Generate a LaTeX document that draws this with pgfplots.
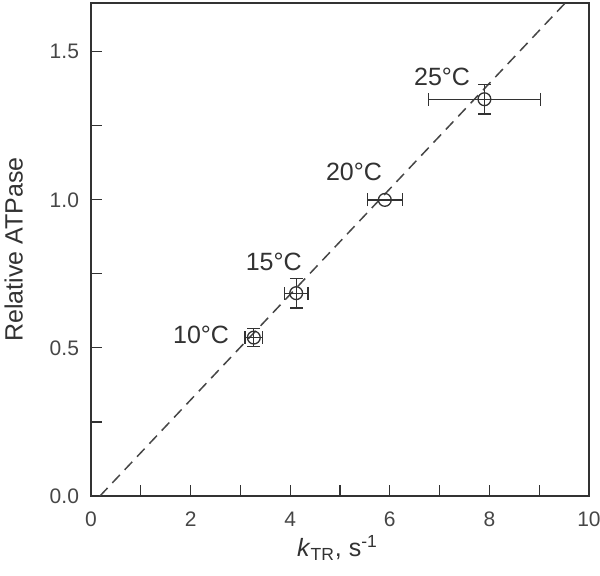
\documentclass[border=0pt]{standalone}
\usepackage{fontspec}
\setmainfont{Liberation Sans}
\usepackage{pgfplots}
\pgfplotsset{compat=1.18}
\definecolor{ink}{RGB}{50,50,50}

\begin{document}
\begin{tikzpicture}
\begin{axis}[
  scale only axis, width=249pt, height=246.5pt,
  xmin=0, xmax=10, ymin=0, ymax=1.665,
  axis line style={ink, line width=1pt},
  tick style={ink, line width=0.55pt},
  tick align=inside, tick pos=left,
  major tick length=5.5pt, minor tick length=5.5pt,
  xtick={0,2,...,10}, minor xtick={1,3,5,7,9},
  ytick={0,0.5,1,1.5}, minor ytick={0.25,0.75,1.25},
  /pgf/number format/assume math mode=true,
  ticklabel style={font=\fontsize{10.5}{12}\selectfont, text=ink!90},
  xticklabel style={yshift=-4.5pt},
  yticklabel style={xshift=-2.5pt, /pgf/number format/fixed,
    /pgf/number format/fixed zerofill, /pgf/number format/precision=1},
  label style={font=\fontsize{12.5}{14}\selectfont, text=ink},
  xlabel={\textit{k}\textsubscript{TR}, s\textsuperscript{-1}},
  ylabel={Relative ATPase},
  xlabel style={at={(axis description cs:0.495,-0.105)}, anchor=center},
  ylabel style={at={(axis description cs:-0.155,0.5)}, anchor=center},
  clip=true,
]
% reference line
\addplot[ink!90, line width=0.75pt, dash pattern=on 5.5pt off 3.5pt]
  coordinates {(0.18,0) (9.70,1.6966)};
% data with error bars
\addplot[ink, only marks, mark=o, mark size=3.2pt, line width=0.65pt,
  error bars/.cd, x dir=both, x explicit, y dir=both, y explicit,
  error mark=|,
  error bar style={line width=0.65pt, ink},
  error mark options={mark size=3.2pt, line width=0.65pt, ink}]
  coordinates {
    (3.27,0.535) +- (0.18,0.03)
    (4.12,0.685) +- (0.24,0.05)
    (5.90,1.000) +- (0.35,0.0)
    (7.90,1.340) +- (1.12,0.05)
  };
\node[ink, font=\fontsize{12.5}{14}\selectfont] at (axis cs:2.21,0.544) {10°C};
\node[ink, font=\fontsize{12.5}{14}\selectfont] at (axis cs:3.67,0.790) {15°C};
\node[ink, font=\fontsize{12.5}{14}\selectfont] at (axis cs:5.28,1.095) {20°C};
\node[ink, font=\fontsize{12.5}{14}\selectfont] at (axis cs:7.05,1.417) {25°C};
\coordinate (sw) at (rel axis cs:0,0);
\coordinate (ne) at (rel axis cs:1,1);
\end{axis}
\pgfresetboundingbox
\path[use as bounding box] ([shift={(-45.5pt,-40pt)}]sw) rectangle ([shift={(5.5pt,1.5pt)}]ne);
\end{tikzpicture}
\end{document}
